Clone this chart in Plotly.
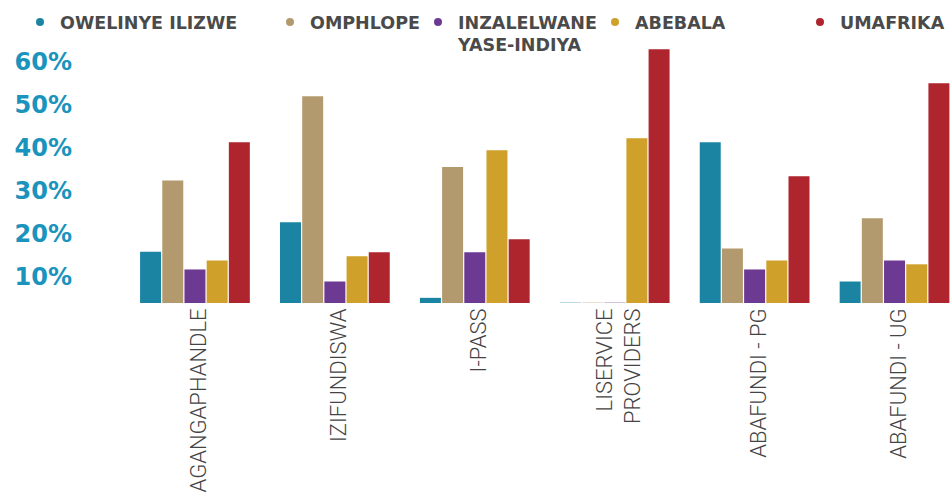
import plotly.graph_objects as go

categories = ["AGANGAPHANDLE", "IZIFUNDISWA", "I-PASS", "LISERVICE<br>PROVIDERS", "ABAFUNDI - PG", "ABAFUNDI - UG"]
series_names = ["OWELINYE ILIZWE", "OMPHLOPE", "INZALELWANE<br>YASE-INDIYA", "ABEBALA", "UMAFRIKA"]
owelinye = [11.9, 18.8, 1.2, 0.2, 37.4, 5.0]
omphlope = [28.5, 48.1, 31.6, 0.2, 12.7, 19.7]
inzalelwane = [7.8, 5.0, 11.8, 0.2, 7.8, 9.9]
abebala = [9.9, 10.9, 35.5, 38.3, 9.9, 9.0]
umafrika = [37.4, 11.8, 14.8, 59.0, 29.5, 51.1]
tick_vals = [10, 20, 30, 40, 50, 60]
tick_text = ["10%", "20%", "30%", "40%", "50%", "60%"]

colors = ["#1b84a2", "#b39a6e", "#6c3a93", "#cfa12a", "#ae252d"]
values = [owelinye, omphlope, inzalelwane, abebala, umafrika]
opac = [[1, 1, 1, 0.3, 1, 1], [1, 1, 1, 0.3, 1, 1], [1, 1, 1, 0.3, 1, 1], 1, 1]
legend_ids = ["legend", "legend2", "legend3", "legend4", "legend5"]
legend_x = [20, 270, 418, 595, 800]

fig = go.Figure()
for name, vals, col, op in zip(series_names, values, colors, opac):
    fig.add_trace(go.Bar(x=categories, y=vals, name=name, marker=dict(color=col, opacity=op, line=dict(width=0)),
                         showlegend=False))
for name, col, lid in zip(series_names, colors, legend_ids):
    fig.add_trace(go.Scatter(x=[None], y=[None], mode="markers", name=name, legend=lid,
                             xaxis="x2", yaxis="y2",
                             marker=dict(color=col, size=8, symbol="circle")))

W, H = 951, 500
left = 124.5
layout_legends = {}
for lid, lx in zip(legend_ids, legend_x):
    layout_legends[lid] = dict(
        x=lx / W, xref="container", xanchor="left",
        y=1 - 4 / H, yref="container", yanchor="top",
        font=dict(family="DejaVu Sans", size=17.5, color="#4a4a4a", weight="bold"),
        bgcolor="rgba(0,0,0,0)", borderwidth=0, valign="top",
    )

fig.update_layout(
    width=W, height=H,
    margin=dict(l=left, r=0, t=44.7, b=197.3, pad=0, autoexpand=False),
    plot_bgcolor="white", paper_bgcolor="white",
    barmode="group", bargap=0.207, bargroupgap=0.054,
    xaxis2=dict(visible=False, overlaying="x", range=[0, 1]),
    yaxis2=dict(visible=False, overlaying="y", range=[0, 1]),
    **layout_legends,
)
fig.layout.xaxis.update(
    type="category", range=[-0.5, 5.5 - 13.5 / 140], showgrid=False, showline=False, zeroline=False,
    ticks="", tickangle=-90, automargin=False, ticklabelshift=4,
    tickfont=dict(family="Roboto", size=22, color="#444444", weight=300),
)
fig.layout.yaxis.update(
    range=[0, 60], showgrid=False, showline=False, zeroline=False, ticks="",
    tickvals=tick_vals, ticktext=tick_text, automargin=False,
    ticklabelshift=17, ticklabelstandoff=52,
    tickfont=dict(family="DejaVu Sans", size=24, color="#1a93bd", weight="bold"),
)
fig.write_html("out.html")
